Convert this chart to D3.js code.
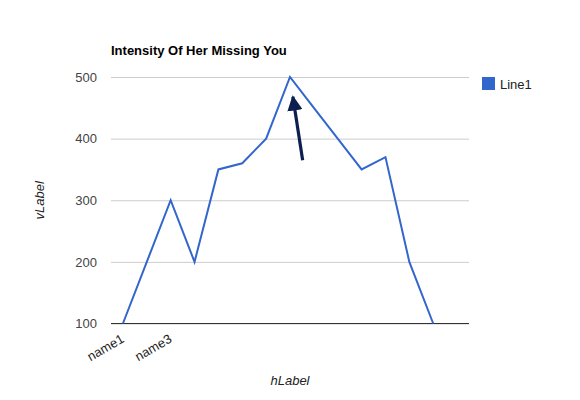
<!DOCTYPE html>
<html>
<head>
<meta charset="utf-8">
<script src="https://cdn.jsdelivr.net/npm/d3@7"></script>
<style>
  html, body { margin: 0; padding: 0; background: #fff; }
</style>
</head>
<body>
<div id="chart"></div>
<script>
const categories = ['name1', 'name2', 'name3', 'name4', 'name5', 'name6', 'name7', 'name8',
  'name9', 'name10', 'name11', 'name12', 'name13', 'name14', 'name15'];
const line1 = [100, 200, 300, 200, 350, 360, 400, 500, 450, 400, 350, 370, 200, 100, null];
const yTicks = [100, 200, 300, 400, 500];
const shownLabels = ['name1', 'name3'];

const width = 580, height = 400;
const margin = { top: 77, right: 111, bottom: 76.5, left: 111 };
const W = width - margin.left - margin.right;
const H = height - margin.top - margin.bottom;
const font = 'Arial, "Liberation Sans", sans-serif';

const svg = d3.select('#chart').append('svg')
  .attr('width', width).attr('height', height);

const g = svg.append('g').attr('transform', `translate(${margin.left},${margin.top})`);

const x = d3.scaleBand().domain(categories).range([0, W]);
const y = d3.scaleLinear().domain([100, 500]).range([H, 0]);
const cx = d => x(d) + x.bandwidth() / 2;

// Grid
g.append('g')
  .call(d3.axisLeft(y).tickValues(yTicks).tickSize(-W).tickFormat(''))
  .call(ax => ax.select('.domain').remove())
  .call(ax => ax.selectAll('line').attr('stroke', '#cccccc'));

// Y labels
g.append('g')
  .call(d3.axisLeft(y).tickValues(yTicks).tickSize(0).tickPadding(14))
  .call(ax => ax.select('.domain').remove())
  .call(ax => ax.selectAll('text').attr('fill', '#444').attr('font-size', 13).attr('font-family', font));

// Baseline
g.append('line').attr('x1', 0).attr('x2', W).attr('y1', y(100)).attr('y2', y(100))
  .attr('stroke', '#333').attr('stroke-width', 1);

// X labels
g.append('g').attr('transform', `translate(0,${H})`)
  .call(d3.axisBottom(x).tickValues(shownLabels).tickSize(0).tickPadding(0))
  .call(ax => ax.select('.domain').remove())
  .call(ax => ax.selectAll('text')
    .attr('fill', '#222').attr('font-size', 13).attr('font-family', font)
    .attr('text-anchor', 'end').attr('dy', 0)
    .attr('transform', 'translate(2,18) rotate(-30)'));

// Line
const line = d3.line()
  .defined(d => d != null)
  .x((d, i) => cx(categories[i]))
  .y(d => y(d));
g.append('path').datum(line1)
  .attr('fill', 'none').attr('stroke', '#3366cc').attr('stroke-width', 2)
  .attr('stroke-linejoin', 'miter').attr('d', line);

// Arrow annotation
const defs = svg.append('defs');
defs.append('marker').attr('id', 'ah')
  .attr('viewBox', '0 0 10 10').attr('refX', 9).attr('refY', 5)
  .attr('markerWidth', 4.8).attr('markerHeight', 4.8).attr('orient', 'auto')
  .append('path').attr('d', 'M0,0 L10,5 L0,10 Z').attr('fill', '#0c1f4e');
const peak = 'name8';
g.append('line')
  .attr('x1', x(peak) + x.bandwidth() * 1.03).attr('y1', y(365))
  .attr('x2', x(peak) + x.bandwidth() * 0.62).attr('y2', y(468))
  .attr('stroke', '#0c1f4e').attr('stroke-width', 3.2)
  .attr('marker-end', 'url(#ah)');

// Title
svg.append('text').attr('x', margin.left).attr('y', 55)
  .attr('font-size', 13).attr('font-weight', 'bold').attr('font-family', font)
  .attr('fill', '#000').text('Intensity Of Her Missing You');

// Axis titles
svg.append('text').attr('x', margin.left + W / 2).attr('y', 385)
  .attr('text-anchor', 'middle').attr('font-size', 13).attr('font-style', 'italic')
  .attr('font-family', font).attr('fill', '#222').text('hLabel');
svg.append('text').attr('transform', `translate(44,${margin.top + H / 2}) rotate(-90)`)
  .attr('text-anchor', 'middle').attr('font-size', 13).attr('font-style', 'italic')
  .attr('font-family', font).attr('fill', '#222').text('vLabel');

// Legend
const lg = svg.append('g').attr('transform', 'translate(482,77)');
lg.append('rect').attr('width', 13).attr('height', 13).attr('fill', '#3366cc');
lg.append('text').attr('x', 18).attr('y', 11.5)
  .attr('font-size', 13).attr('font-family', font).attr('fill', '#222').text('Line1');
</script>
</body>
</html>
